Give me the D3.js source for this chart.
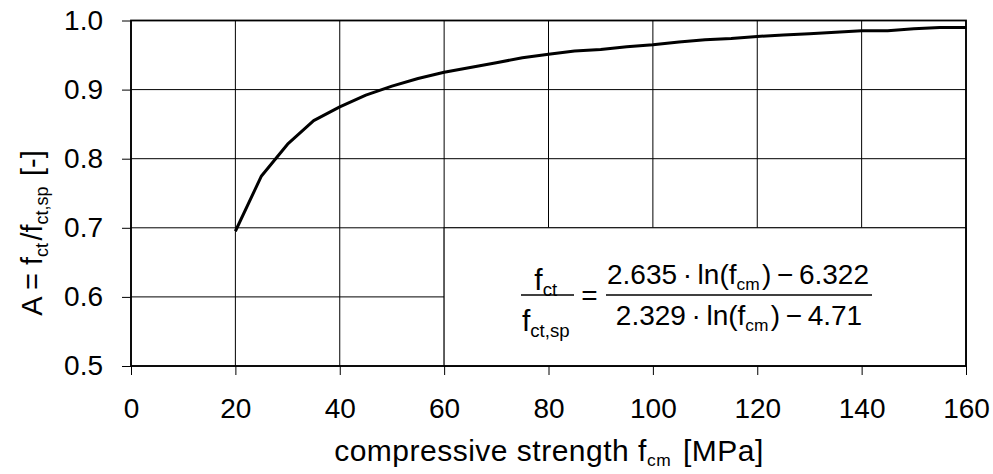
<!DOCTYPE html>
<html><head><meta charset="utf-8">
<script src="https://cdn.jsdelivr.net/npm/d3@7"></script>
<style>body{margin:0;background:#fff;} text{font-family:"Liberation Sans",Arial,sans-serif;fill:#000;}</style>
</head><body><svg id="c" width="993" height="474"></svg>
<script>
const strength = [20,25,30,35,40,45,50,55,60,65,70,75,80,85,90,95,100,105,110,115,120,125,130,135,140,145,150,155,160];
const ratioA = [0.695,0.775,0.821,0.855,0.875,0.892,0.905,0.916,0.925,0.932,0.939,0.946,0.951,0.956,0.958,0.962,0.965,0.969,0.972,0.974,0.977,0.979,0.981,0.983,0.985,0.985,0.988,0.990,0.990];
const xTicks = [0,20,40,60,80,100,120,140,160];
const yTicks = [0.5,0.6,0.7,0.8,0.9,1.0];

const svg = d3.select("#c");
const L=131, R=966, T=20.5, B=366;
const x = d3.scaleLinear().domain([0,160]).range([L,R]);
const y = d3.scaleLinear().domain([0.5,1.0]).range([B,T]);
const FS = 28, TS = 29, F = 28;

// grid
const g = svg.append("g");
g.selectAll(".vg").data(xTicks).enter().append("line")
  .attr("x1",d=>x(d)).attr("x2",d=>x(d)).attr("y1",T).attr("y2",B)
  .attr("stroke","#000").attr("stroke-width",1);
g.selectAll(".hg").data(yTicks).enter().append("line")
  .attr("y1",d=>y(d)).attr("y2",d=>y(d)).attr("x1",L).attr("x2",R)
  .attr("stroke","#000").attr("stroke-width",1);

// formula box
svg.append("rect").attr("x",x(60)).attr("y",y(0.7)).attr("width",x(160)-x(60)).attr("height",y(0.5)-y(0.7))
  .attr("fill","#fff").attr("stroke","#000").attr("stroke-width",1);

// axes
const xAxis = d3.axisBottom(x).tickValues(xTicks).tickSize(9).tickPadding(23).tickFormat(d3.format("d"));
const yAxis = d3.axisLeft(y).tickValues(yTicks).tickSize(9).tickPadding(19).tickFormat(d3.format(".1f"));
const gx = svg.append("g").attr("transform",`translate(0,${B})`).call(xAxis);
const gy = svg.append("g").attr("transform",`translate(${L},0)`).call(yAxis);
[gx,gy].forEach(a=>{
  a.select(".domain").remove();
  a.selectAll("line").attr("stroke","#000");
  a.selectAll("text").style("font-family",'"Liberation Sans",Arial,sans-serif').style("font-size",FS+"px").attr("fill","#000");
});

// curve
const pts = strength.map((s,i)=>[s,ratioA[i]]);
svg.append("path").datum(pts)
  .attr("d",d3.line().x(d=>x(d[0])).y(d=>y(d[1])))
  .attr("fill","none").attr("stroke","#000").attr("stroke-width",3).attr("stroke-linejoin","round");

// frame
svg.append("rect").attr("x",L).attr("y",T).attr("width",R-L).attr("height",B-T)
  .attr("fill","none").attr("stroke","#000").attr("stroke-width",1.8);

function richText(t, parts, size, subScale, subDrop){
  subScale = subScale || 0.62; subDrop = subDrop || 0.2;
  t.style("font-size",size+"px");
  parts.forEach(p=>{
    if(typeof p==="string"){ t.append("tspan").text(p).style("font-size",size+"px"); }
    else { t.append("tspan").text(p.sub).style("font-size",(size*subScale)+"px").attr("dy",size*subDrop);
           t.append("tspan").text("\u200A").style("font-size",size+"px").attr("dy",-size*subDrop); }
  });
  return t;
}

// axis titles
richText(svg.append("text").attr("x",549).attr("y",461).attr("text-anchor","middle").style("letter-spacing","0.5px"),
  ["compressive strength f",{sub:"cm"}," [MPa]"], 30, 0.58, 0.15);
richText(svg.append("text").attr("transform","translate(42,233) rotate(-90)").attr("text-anchor","middle"),
  ["A = f",{sub:"ct"},"/f",{sub:"ct,sp"}," [-]"], TS);

// formula
const TH = "\u2009";
richText(svg.append("text").attr("x",547).attr("y",290).attr("text-anchor","middle"), ["f",{sub:"ct"}], 30);
richText(svg.append("text").attr("x",547).attr("y",331).attr("text-anchor","middle"), ["f",{sub:"ct,sp"}], 30);
svg.append("line").attr("x1",521).attr("x2",574).attr("y1",295).attr("y2",295).attr("stroke","#000").attr("stroke-width",1.5);
svg.append("text").attr("x",589.5).attr("y",305).attr("text-anchor","middle").style("font-size",F+"px").text("=");
svg.append("line").attr("x1",606).attr("x2",872).attr("y1",295).attr("y2",295).attr("stroke","#000").attr("stroke-width",1.5);
richText(svg.append("text").attr("x",738).attr("y",284).attr("text-anchor","middle"), ["2.635"+TH+"\u00B7"+TH+"ln(f",{sub:"cm"},")"+TH+"\u2212"+TH+"6.322"], F);
richText(svg.append("text").attr("x",739).attr("y",325).attr("text-anchor","middle"), ["2.329"+TH+"\u00B7"+TH+"ln(f",{sub:"cm"},")"+TH+"\u2212"+TH+"4.71"], F);
</script></body></html>
